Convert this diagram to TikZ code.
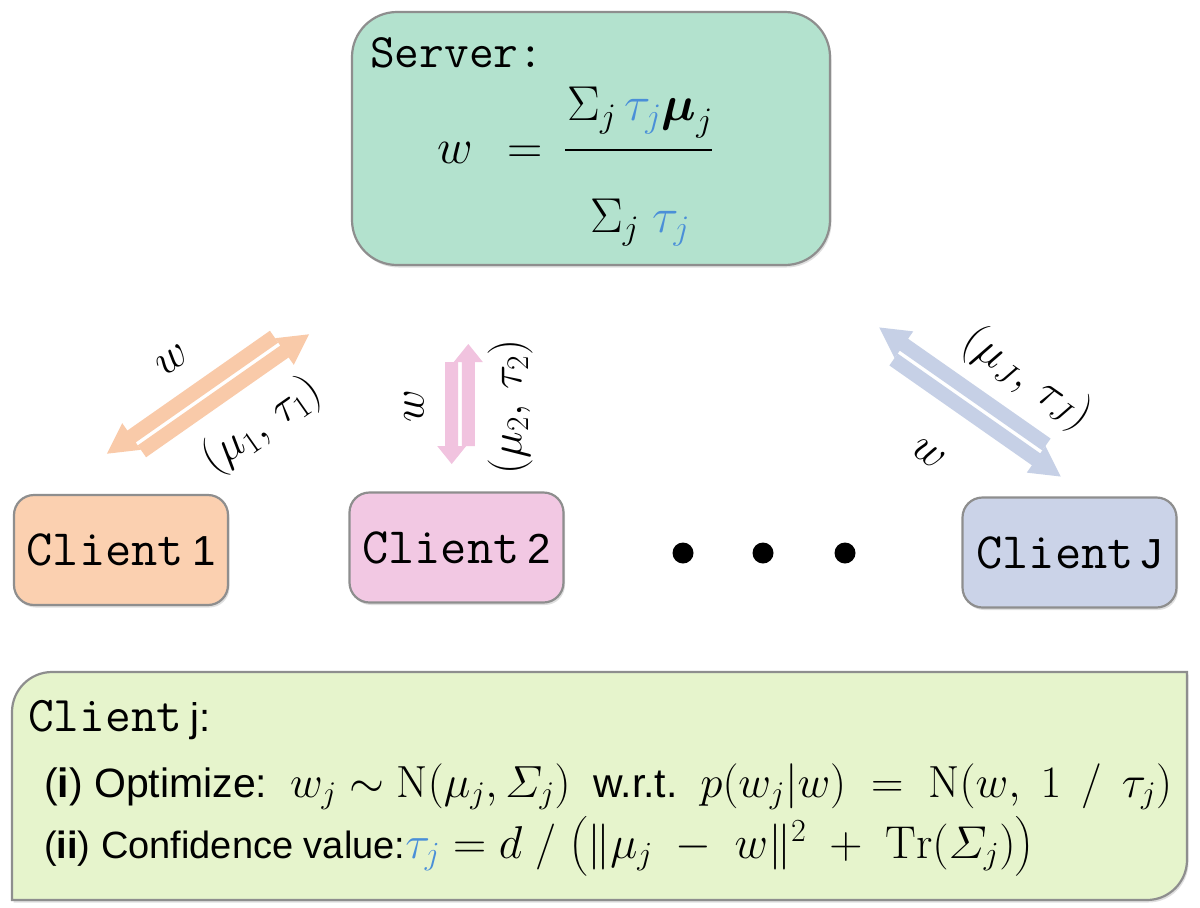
\RequirePackage{fix-cm}
\documentclass[tikz,border=0pt]{standalone}
\usepackage{amsmath}
\usepackage{fontspec}
\setsansfont{Liberation Sans}
\usetikzlibrary{shadows}
\definecolor{serverfill}{HTML}{B3E2CE}
\definecolor{cone}{HTML}{FBD0B0}
\definecolor{ctwo}{HTML}{F2C8E3}
\definecolor{cjay}{HTML}{CBD3E8}
\definecolor{botfill}{HTML}{E6F4CC}
\definecolor{bordergray}{HTML}{8E8E8E}
\definecolor{aone}{HTML}{F9CAA9}
\definecolor{atwo}{HTML}{F1C3DF}
\definecolor{ajay}{HTML}{C6D0E6}
\definecolor{tblue}{HTML}{4A8FD8}
\newcommand\twoway[7]{% #1 center, #2 angle, #3 half length, #4 head length, #5 shaft width, #6 head overhang, #7 colour
\begin{scope}[shift={#1}, rotate=#2, x=1pt, y=1pt]
 \fill[#7] ({#3-#4},1.8) -- ({#3-#4},{1.8+#5}) -- ({-#3+#4},{1.8+#5}) -- ({-#3+#4},{1.8+#5+#6}) -- ({-#3},{1.8+#5/2}) -- ({-#3+#4},{1.8-#6}) -- ({-#3+#4},1.8) -- cycle;
 \fill[#7] ({-#3+#4},-1.8) -- ({-#3+#4},{-1.8-#5}) -- ({#3-#4},{-1.8-#5}) -- ({#3-#4},{-1.8-#5-#6}) -- ({#3},{-1.8-#5/2}) -- ({#3-#4},{-1.8+#6}) -- ({#3-#4},-1.8) -- cycle;
\end{scope}}
\tikzset{
  shad/.style={drop shadow={opacity=0.25,shadow xshift=1.5pt,shadow yshift=-2.5pt}},
  box/.style={draw=bordergray, line width=2.2pt, shad},
  clientbox/.style={box, rectangle, rounded corners=20pt, minimum width=214pt, minimum height=110pt, inner sep=0pt},
  mono/.style={font=\fontsize{48}{52}\selectfont\ttfamily},
  lbl/.style={font=\fontsize{45}{50}\selectfont, inner sep=0pt},
  dot/.style={circle, fill=black, minimum size=21pt, inner sep=0pt},
}
\newcommand\clientlabel[1]{{\fontsize{51}{55}\selectfont\ttfamily Client}\hspace{8pt}{\fontsize{42}{46}\selectfont\sffamily #1}}
\begin{document}
\begin{tikzpicture}[x=1pt,y=-1pt]
\useasboundingbox (0,0) rectangle (1200,908);
\fill[white] (0,0) rectangle (1200,908);

% server
\node[box, fill=serverfill, rectangle, rounded corners=45pt, minimum width=478pt, minimum height=253pt] (server) at (591,138.5) {};
\node[mono, anchor=base west, inner sep=0pt] (servlbl) at (370,67) {Server:};
\begin{scope}[every node/.style={font=\fontsize{49}{52}\selectfont, inner sep=0pt}]
\node[anchor=base] (wsym) at (455,163) {$w$};
\node[anchor=base] (eqsym) at (525,163) {$=$};
\node[anchor=base] (numer) at (640,120) {$\Sigma_j\,\textcolor{tblue}{\tau_j}\boldsymbol{\mu}_j$};
\node[anchor=base] (denom) at (640,232) {$\Sigma_j\;\textcolor{tblue}{\tau_j}$};
\end{scope}
\coordinate (barL) at (565,150);
\coordinate (barR) at (712,150);
\draw[line width=1.3pt] (barL) -- (barR);

% clients
\node[clientbox, fill=cone] (c1) at (121,550) {\clientlabel{1}};
\node[clientbox, fill=ctwo] (c2) at (456.5,547.5) {\clientlabel{2}};
\node[clientbox, fill=cjay] (cJ) at (1069.5,552.5) {\clientlabel{J}};
\node[dot] (d1) at (683,553) {};
\node[dot] (d2) at (763,553) {};
\node[dot] (d3) at (845,553) {};

% arrows
\twoway{(208,394)}{35}{117}{30}{14.5}{9}{aone}
\twoway{(460,404)}{90}{60}{18}{13}{8}{atwo}
\twoway{(970,402)}{145}{117}{30}{14.5}{9}{ajay}

\node[lbl, rotate=35] (l1w) at (172,360) {$w$};
\node[lbl, rotate=35] (l1m) at (262,426) {$(\mu_1,\,\tau_1)$};
\node[lbl, rotate=90] (l2w) at (414,406) {$w$};
\node[lbl, rotate=90] (l2m) at (510,407) {$(\mu_2,\,\tau_2)$};
\node[lbl, rotate=-35] (lJm) at (1027,379) {$(\mu_J,\,\tau_J)$};
\node[lbl, rotate=-35] (lJw) at (928,454) {$w$};

% bottom box
\draw[draw=bordergray, line width=2.2pt, fill=botfill, shad]
  (12,900) -- (12,712) .. controls (12,690) and (30,672) .. (52,672) -- (1187,672)
  -- (1187,860) .. controls (1187,882) and (1169,900) .. (1147,900) -- cycle;
\node[anchor=base west, inner sep=0pt] (cj) at (28,731) {{\fontsize{50}{54}\selectfont\ttfamily Client}\hspace{8pt}{\fontsize{40}{44}\selectfont\sffamily j:}};
\node[anchor=base west, inner sep=0pt] (line1) at (44,797) {\fontsize{41}{46}\selectfont\sffamily (\textbf{i}) Optimize:\ \ {\fontsize{45}{48}\selectfont$w_j \sim \mathrm{N}(\mu_j,\varSigma_j)$}\ \ w.r.t.\ \ {\fontsize{45}{48}\selectfont$p(w_j|w)\;=\;\mathrm{N}(w,\ 1\ \,/\ \,\tau_j)$}};
\node[anchor=base west, inner sep=0pt] (line2) at (44,858) {\fontsize{38}{44}\selectfont\sffamily (\textbf{ii}) Confidence value:{\fontsize{46}{48}\selectfont$\textcolor{tblue}{\tau_j}=d\ /\ \big(\|\mu_j\ -\ w\|^2\ +\ \mathrm{Tr}(\varSigma_j)\big)$}};
\end{tikzpicture}
\end{document}
